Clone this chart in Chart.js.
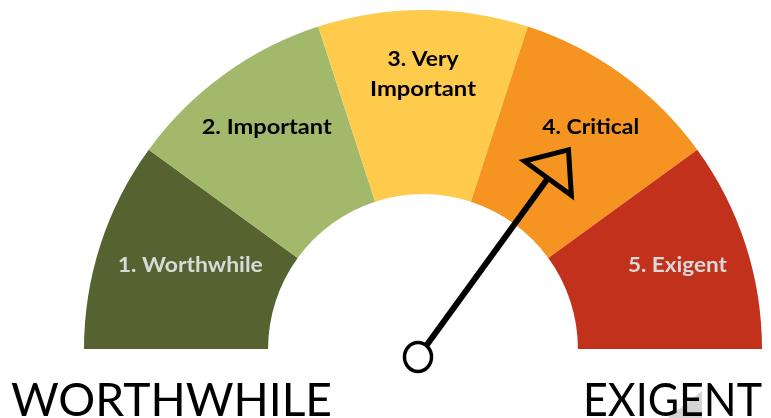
<!DOCTYPE html>
<html>
<head>
<meta charset="utf-8">
<script src="https://cdn.jsdelivr.net/npm/chart.js@4/dist/chart.umd.min.js"></script>
<style>
  html, body { margin: 0; padding: 0; background: #ffffff; overflow: hidden; }
  canvas { display: block; }
</style>
</head>
<body>
<canvas id="gauge" width="771" height="418"></canvas>
<script>
// Priority bands of the gauge, from least to most urgent
const categories = ['1. Worthwhile', '2. Important', '3. Very\nImportant', '4. Critical', '5. Exigent'];
const bandSizes = [1, 1, 1, 1, 1];
const bandColors = ['#566330', '#a2b86b', '#fecb4d', '#f59421', '#c1311b'];
const labelColors = ['#d9d9d9', '#000000', '#000000', '#000000', '#d9d9d9'];
// End captions under the dial
const scaleEnds = ['WORTHWHILE', 'EXIGENT'];
// Current reading on the 0..5 dial
const needleValue = 3.5;

// Draws centred text squeezed or stretched horizontally to a given width
function fitText(ctx, text, x, y, width) {
  const w = ctx.measureText(text).width;
  ctx.save();
  ctx.translate(x, y);
  ctx.scale(width / w, 1);
  ctx.textAlign = 'center';
  ctx.fillText(text, 0, 0);
  ctx.restore();
}

const bandLabels = {
  id: 'bandLabels',
  afterDatasetsDraw(chart, args, opts) {
    const ctx = chart.ctx;
    const meta = chart.getDatasetMeta(0);
    ctx.save();
    ctx.font = opts.font;
    ctx.textBaseline = 'middle';
    meta.data.forEach((arc, i) => {
      const p = arc.getProps(['x', 'y', 'startAngle', 'endAngle', 'outerRadius']);
      const a = (p.startAngle + p.endAngle) / 2 + opts.angleNudge[i] * Math.PI / 180;
      const r = p.outerRadius * opts.radius[i];
      const cx = p.x + Math.cos(a) * r;
      const cy = p.y + Math.sin(a) * r;
      const lines = chart.data.labels[i].split('\n');
      const widths = [].concat(opts.widths[i]);
      ctx.fillStyle = labelColors[i];
      lines.forEach((line, k) => {
        const ly = cy + (k - (lines.length - 1) / 2) * opts.lineHeight;
        fitText(ctx, line, cx, ly, widths[k]);
      });
    });
    ctx.restore();
  }
};

const needle = {
  id: 'needle',
  afterDraw(chart, args, opts) {
    const ctx = chart.ctx;
    const arcs = chart.getDatasetMeta(0).data;
    const first = arcs[0].getProps(['x', 'y', 'startAngle']);
    const last = arcs[arcs.length - 1].getProps(['endAngle']);
    const total = bandSizes.reduce((s, v) => s + v, 0);
    const ang = first.startAngle + (last.endAngle - first.startAngle) * (needleValue / total);
    const px = first.x + opts.pivotOffset[0];
    const py = first.y + opts.pivotOffset[1];
    const ux = Math.cos(ang), uy = Math.sin(ang);
    const nx = -uy, ny = ux;
    ctx.save();
    ctx.strokeStyle = '#000000';
    ctx.lineJoin = 'miter';
    // shaft
    ctx.lineWidth = opts.shaftWidth;
    ctx.beginPath();
    ctx.moveTo(px + ux * opts.hubRadius, py + uy * opts.hubRadius);
    ctx.lineTo(px + ux * opts.baseDist, py + uy * opts.baseDist);
    ctx.stroke();
    // open arrow head
    const bx = px + ux * opts.baseDist, by = py + uy * opts.baseDist;
    ctx.lineWidth = opts.headLine;
    ctx.beginPath();
    ctx.moveTo(bx + nx * opts.headHalf, by + ny * opts.headHalf);
    ctx.lineTo(px + ux * opts.tipDist, py + uy * opts.tipDist);
    ctx.lineTo(bx - nx * opts.headHalf, by - ny * opts.headHalf);
    ctx.closePath();
    ctx.stroke();
    // hub
    ctx.lineWidth = opts.hubLine;
    ctx.fillStyle = '#ffffff';
    ctx.beginPath();
    ctx.ellipse(px, py, opts.hubRadius - 0.5, opts.hubRadius + 0.5, 0, 0, Math.PI * 2);
    ctx.fill();
    ctx.stroke();
    ctx.restore();
  }
};

const endCaptions = {
  id: 'endCaptions',
  afterDraw(chart, args, opts) {
    const ctx = chart.ctx;
    ctx.save();
    // light grey corner shape behind the right caption
    ctx.fillStyle = '#d4d4d4';
    ctx.beginPath();
    ctx.moveTo(668, 418);
    ctx.lineTo(702, 391);
    ctx.lineTo(702, 418);
    ctx.closePath();
    ctx.fill();
    ctx.font = opts.font;
    ctx.fillStyle = '#000000';
    ctx.textBaseline = 'alphabetic';
    opts.boxes.forEach((b, i) => {
      fitText(ctx, scaleEnds[i], b[0] + b[1] / 2, opts.baseline, b[1]);
    });
    ctx.restore();
  }
};

new Chart(document.getElementById('gauge'), {
  type: 'doughnut',
  data: {
    labels: categories,
    datasets: [{
      data: bandSizes,
      backgroundColor: bandColors,
      borderWidth: 0,
      hoverOffset: 0
    }]
  },
  options: {
    responsive: false,
    animation: false,
    events: [],
    rotation: -90,
    circumference: 180,
    cutout: '45.7%',
    layout: { padding: { left: 84, right: 9, top: 10, bottom: 69 } },
    plugins: {
      legend: { display: false },
      tooltip: { enabled: false },
      bandLabels: {
        font: 'bold 21px Lato',
        lineHeight: 30,
        widths: [145, 130, [71, 106], 97, 99],
        radius: [0.73, 0.80, 0.81, 0.82, 0.79],
        angleNudge: [1.9, 0.8, 0, 1.1, -0.2]
      },
      needle: {
        pivotOffset: [-5, 8],
        hubRadius: 14,
        hubLine: 3.5,
        shaftWidth: 6,
        baseDist: 221,
        tipDist: 256,
        headHalf: 29,
        headLine: 5
      },
      endCaptions: {
        font: '46px Lato',
        baseline: 416,
        boxes: [[11, 321], [583, 179]]
      }
    }
  },
  plugins: [bandLabels, needle, endCaptions]
});
</script>
</body>
</html>
